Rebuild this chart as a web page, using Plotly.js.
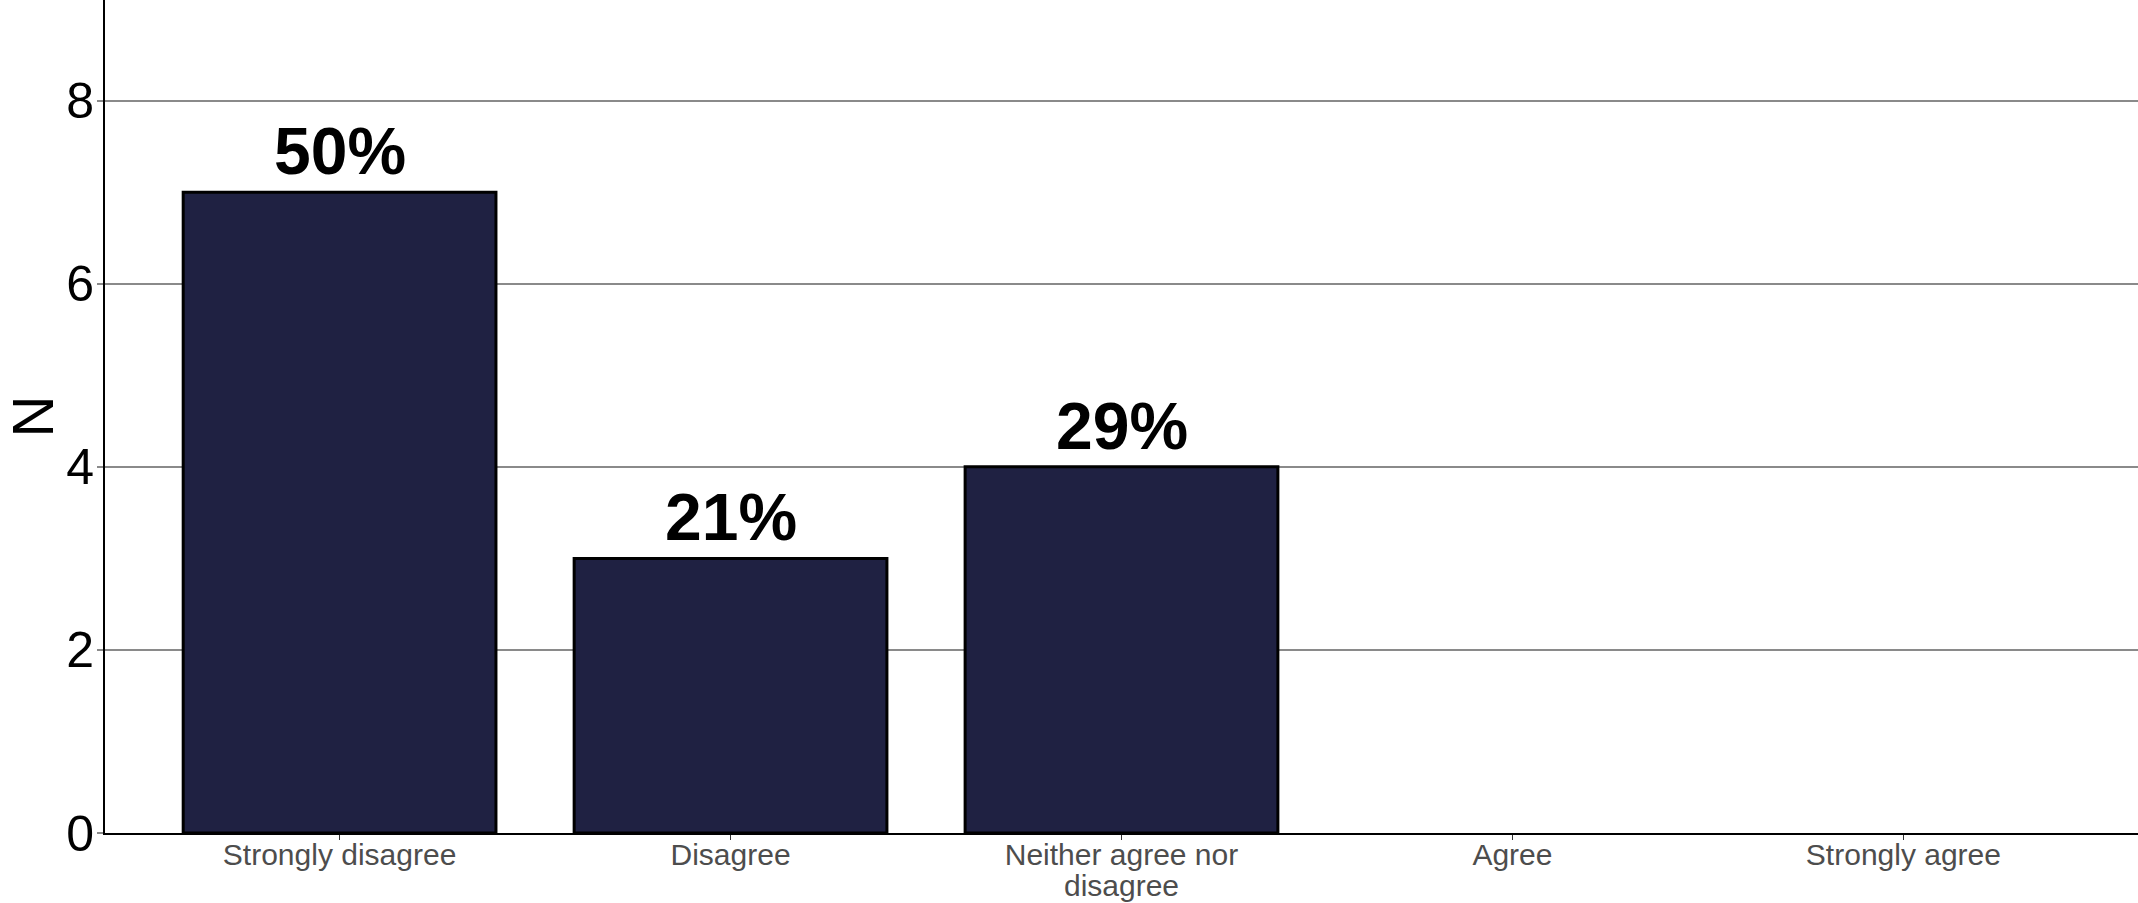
<!DOCTYPE html>
<html>
<head>
<meta charset="utf-8">
<script src="https://cdn.plot.ly/plotly-3.0.1.min.js"></script>
<style>
html,body{margin:0;padding:0;background:#fff;}
#chart{width:2138px;height:903px;}
</style>
</head>
<body>
<div id="chart"></div>
<script>
const categories = ["Strongly disagree", "Disagree", "Neither agree nor<br>disagree", "Agree", "Strongly agree"];
const counts = [7, 3, 4, 0, 0];
const pctLabels = ["50%", "21%", "29%", "", ""];
const yTickVals = [0, 2, 4, 6, 8];

const trace = {
  type: "bar",
  x: categories,
  y: counts,
  width: 0.8,
  marker: {color: "#1f2142", line: {color: "#000000", width: counts.map(v => v > 0 ? 3 : 0)}},
  hoverinfo: "x+y",
  showlegend: false
};

const annotations = [];
for (let i = 0; i < categories.length; i++) {
  if (pctLabels[i]) {
    annotations.push({
      x: categories[i], y: counts[i], xref: "x", yref: "y",
      text: "<b>" + pctLabels[i] + "</b>",
      showarrow: false, yanchor: "bottom", yshift: 2,
      font: {family: "Liberation Sans, Arial, sans-serif", size: 66, color: "#000"}
    });
  }
}

// tighter line spacing: small base font, larger span font
const xTickText = categories.map(c => c.split("<br>").map(s => '<span style="font-size:30px">' + s + '</span>').join("<br>"));

const layout = {
  width: 2138, height: 903,
  margin: {l: 105, r: 0, t: 0, b: 70, pad: 0},
  paper_bgcolor: "#fff", plot_bgcolor: "#fff",
  font: {family: "Liberation Sans, Arial, sans-serif"},
  bargap: 0.2,
  xaxis: {
    type: "category",
    range: [-0.6, 4.6],
    tickmode: "array", tickvals: categories, ticktext: xTickText,
    showgrid: false, zeroline: false,
    showline: true, linecolor: "#000", linewidth: 2,
    ticks: "outside", ticklen: 5, tickcolor: "#333", tickwidth: 1.5,
    ticklabelstandoff: -4,
    tickfont: {size: 24, color: "#4d4d4d"},
    automargin: false
  },
  yaxis: {
    range: [0, 9.1],
    tickvals: yTickVals,
    showgrid: true, gridcolor: "#8a8a8a", gridwidth: 2,
    zeroline: false,
    showline: true, linecolor: "#000", linewidth: 2,
    ticks: "outside", ticklen: 6, tickcolor: "#8a8a8a", tickwidth: 2,
    ticklabelstandoff: -7,
    tickfont: {size: 50, color: "#000"},
    title: {text: "N", font: {size: 58, color: "#000"}, standoff: 10},
    automargin: false
  },
  annotations: annotations
};

Plotly.newPlot("chart", [trace], layout, {displayModeBar: false, staticPlot: true});
</script>
</body>
</html>
